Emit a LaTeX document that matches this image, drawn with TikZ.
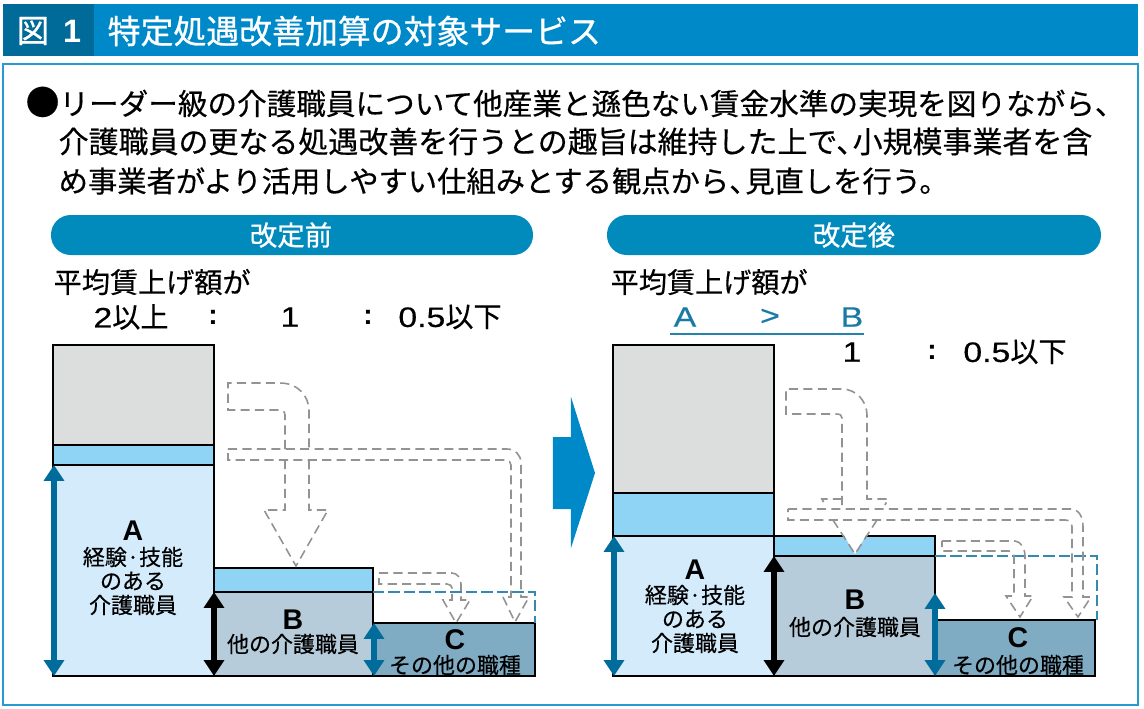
\documentclass[tikz,border=0pt]{standalone}
\usepackage{fontspec}
\usepackage{tikz}
\usetikzlibrary{arrows.meta}
\setmainfont[FakeBold=0.4]{Noto Sans CJK JP}
\newfontfamily\boldjp[FakeBold=0.8]{Noto Sans CJK JP}
\newfontfamily\latfont[FakeStretch=1.2,FakeBold=0.5]{Liberation Sans}
\newfontfamily\latbold{Liberation Sans Bold}
\definecolor{band}{HTML}{0089C8}
\definecolor{banddark}{HTML}{006B99}
\definecolor{pill}{HTML}{008BBC}
\definecolor{hgrey}{HTML}{DCDDDD}
\definecolor{hblue}{HTML}{8FD3F5}
\definecolor{boxa}{HTML}{D3EBFA}
\definecolor{boxb}{HTML}{B6CCDA}
\definecolor{boxc}{HTML}{7FABC3}
\definecolor{tealbar}{HTML}{006C9B}
\tikzset{%
    bar/.style={draw=black,line width=0.45pt},
    flow/.style={draw=gray!85,line width=0.45pt,dash pattern=on 2.6pt off 1.5pt},
    level/.style={draw=tealbar!80,line width=0.8pt,dash pattern=on 3.2pt off 1.2pt},
    updown/.style={<->,line width=1.55pt,>={Triangle[width=5.6pt,length=4.5pt]}},
    body/.style={anchor=west,inner sep=0pt,font=\fontsize{8.42}{10}\selectfont},
    rate/.style={inner sep=0pt,font=\fontsize{8}{10}\selectfont},
    big/.style={inner sep=0pt,text=black,font=\latbold\fontsize{8.1}{10}\selectfont},
    small/.style={inner sep=0pt,font=\fontsize{6.25}{8}\selectfont}
}
\begin{document}
\begin{tikzpicture}[x=0.01cm,y=-0.01cm]
    \useasboundingbox (0,0) rectangle (1144,708);
%-----------------------------------------------
    \fill[band] (3,4) rectangle (1138,56);
    \fill[banddark] (3,4) rectangle (94,56);
    \draw[band!85,line width=0.4pt] (3,64) rectangle (1138,705);
    \node[inner sep=0pt,text=white,font=\boldjp\fontsize{9.2}{10}\selectfont] (fig) at (49,31) {図\hspace{4pt}{\latbold 1}};
    \node[anchor=west,inner sep=0pt,text=white,font=\boldjp\fontsize{9.35}{10}\selectfont] (title) at (107,31) {特定処遇改善加算の対象サービス};
%-----------------------------------------------
    \node[body] (line1) at (25,102) {{\fontsize{9.6}{10}\selectfont ●}リーダー級の介護職員について他産業と遜色ない賃金水準の実現を図りながら、};
    \node[body,font=\fontsize{8.52}{10}\selectfont] (line2) at (58,141.5) {介護職員の更なる処遇改善を行うとの趣旨は維持した上で、\hspace{-0.45em}小規模事業者を含};
    \node[body,font=\fontsize{8.33}{10}\selectfont] (line3) at (58,181) {め事業者がより活用しやすい仕組みとする観点から、\hspace{-0.45em}見直しを行う。};
%-----------------------------------------------
    \fill[pill,rounded corners=5.6pt] (51,215) rectangle (533,255);
    \fill[pill,rounded corners=5.6pt] (607,215) rectangle (1101,255);
    \node[inner sep=0pt,text=white,font=\boldjp\fontsize{7.8}{10}\selectfont] (before) at (291,235) {改定前};
    \node[inner sep=0pt,text=white,font=\boldjp\fontsize{7.8}{10}\selectfont] (after) at (854,235) {改定後};
%-----------------------------------------------
    \node[rate,anchor=west] (ratel) at (53,282) {平均賃上げ額が};
    \node[rate] (l2) at (131,317) {{\latfont 2}以上};
    \node[rate] (lc1) at (213,317) {{\latbold :}};
    \node[rate] (l1) at (290,317) {{\latfont 1}};
    \node[rate] (lc2) at (368,317) {{\latbold :}};
    \node[rate] (l05) at (450,317) {{\latfont 0.5}以下};
%-----------------------------------------------
    \node[rate,anchor=west] (rater) at (610,282) {平均賃上げ額が};
    \node[rate,text=tealbar!90] (ra) at (685,317) {{\latfont A}};
    \node[rate,text=tealbar!90] (rgt) at (770,317) {{\latfont >}};
    \node[rate,text=tealbar!90] (rb) at (852,317) {{\latfont B}};
    \draw[tealbar!85,line width=0.45pt] (670,334) -- (864,334);
    \node[rate] (r1) at (852,352) {{\latfont 1}};
    \node[rate] (rc) at (932,352) {{\latbold :}};
    \node[rate] (r05) at (1015,352) {{\latfont 0.5}以下};
%-----------------------------------------------
    \fill[band] (553,437) -- (571,437) -- (571,397) -- (595,473) -- (571,548) -- (571,509) -- (553,509) -- cycle;
%-----------------------------------------------
    \draw[bar,fill=hgrey] (53,345) rectangle (214,445);
    \draw[bar,fill=hblue] (53,445) rectangle (214,465);
    \draw[bar,fill=boxa] (53,465) rectangle (214,676);
    \draw[bar,fill=hblue] (214,568) rectangle (373,592);
    \draw[bar,fill=boxb] (214,592) rectangle (373,676);
    \draw[bar,fill=boxc] (373,623) rectangle (535,676);
    \draw[level] (373,592) -- (535,592) -- (535,623);
%-----------------------------------------------
    \draw[flow] (285,449) -- (285,415) .. controls (285,411) and (282,410) .. (278,410) -- (228,410) -- (228,383) -- (280,383) .. controls (297,383) and (309,395) .. (309,411) -- (309,449);
    \draw[flow] (285,460) -- (285,510) -- (264,510) -- (296,566) -- (328,510) -- (309,510) -- (309,460);
    \draw[flow] (228,449) -- (507,449) .. controls (515,449) and (521,455) .. (521,463) -- (521,597) -- (529,597) -- (515,622) -- (503,597) -- (511,597) -- (511,465) .. controls (511,462) and (509,460) .. (505,460) -- (228,460) -- cycle;
    \draw[flow] (379,573) -- (452,573) .. controls (457,573) and (461,578) .. (461,584) -- (461,600) -- (470,600) -- (456,623) -- (443,600) -- (452,600) -- (452,588) .. controls (452,586) and (450,584) .. (447,584) -- (379,584) -- cycle;
%-----------------------------------------------
    \draw[bar,fill=hgrey] (613,345) rectangle (774,493);
    \draw[bar,fill=hblue] (613,493) rectangle (774,536);
    \draw[bar,fill=boxa] (613,536) rectangle (774,676);
    \draw[bar,fill=hblue] (774,536) rectangle (935,556);
    \draw[bar,fill=boxb] (774,556) rectangle (935,676);
    \draw[bar,fill=boxc] (935,620) rectangle (1095,676);
    \draw[level] (935,556) -- (1097,556) -- (1097,620);
%-----------------------------------------------
    \fill[white] (835,520) -- (855,554) -- (875,520) -- cycle;
    \draw[flow] (842,505) -- (842,418) .. controls (842,415) and (840,414) .. (836,414) -- (786,414) -- (786,389) -- (842,389) .. controls (856,389) and (867,401) .. (867,415) -- (867,499) -- (888,499) -- (885,505);
    \draw[flow] (842,499) -- (822,499) -- (825,505);
    \draw[flow] (833,520) -- (855,554) -- (877,520);
    \draw[flow] (788,509) -- (1071,509) .. controls (1078,509) and (1083,516) .. (1083,526) -- (1083,597) -- (1091,597) -- (1078,617) -- (1064,597) -- (1072,597) -- (1072,527) .. controls (1072,523) and (1070,520) .. (1065,520) -- (788,520) -- cycle;
    \draw[flow] (942,541) -- (1015,541) .. controls (1020,541) and (1025,548) .. (1025,556) -- (1025,596) -- (1033,596) -- (1020,617) -- (1006,596) -- (1014,596) -- (1014,556) .. controls (1014,553) and (1012,551) .. (1009,551) -- (942,551) -- cycle;
%-----------------------------------------------
    \coordinate (lat) at (54,465);
    \coordinate (lab) at (54,676);
    \coordinate (lbt) at (214,592);
    \coordinate (lbb) at (214,676);
    \coordinate (lct) at (374,623);
    \coordinate (lcb) at (374,676);
    \coordinate (rat) at (614,536);
    \coordinate (rab) at (614,676);
    \coordinate (rbt) at (774,556);
    \coordinate (rbb) at (774,676);
    \coordinate (rct) at (935,593);
    \coordinate (rcb) at (935,676);
    \draw[updown,tealbar] (lat) -- (lab);
    \draw[updown,black] (lbt) -- (lbb);
    \draw[updown,tealbar] (lct) -- (lcb);
    \draw[updown,tealbar] (rat) -- (rab);
    \draw[updown,black] (rbt) -- (rbb);
    \draw[updown,tealbar] (rct) -- (rcb);
%-----------------------------------------------
    \node[big] (la) at (133,531) {A};
    \node[small] (la1) at (133,557) {経験·技能};
    \node[small] (la2) at (133,581) {のある};
    \node[small] (la3) at (133,605) {介護職員};
    \node[big] (lb) at (293,620) {B};
    \node[small] (lb1) at (293,644) {他の介護職員};
    \node[big] (lc) at (455,640) {C};
    \node[small] (lc1x) at (455,665) {その他の職種};
%-----------------------------------------------
    \node[big] (ra2) at (695,570) {A};
    \node[small] (ra3) at (695,595) {経験·技能};
    \node[small] (ra4) at (695,619) {のある};
    \node[small] (ra5) at (695,643) {介護職員};
    \node[big] (rb2) at (855,600) {B};
    \node[small] (rb3) at (855,627) {他の介護職員};
    \node[big] (rc2) at (1018,638) {C};
    \node[small] (rc3) at (1018,665) {その他の職種};
\end{tikzpicture}
\end{document}
